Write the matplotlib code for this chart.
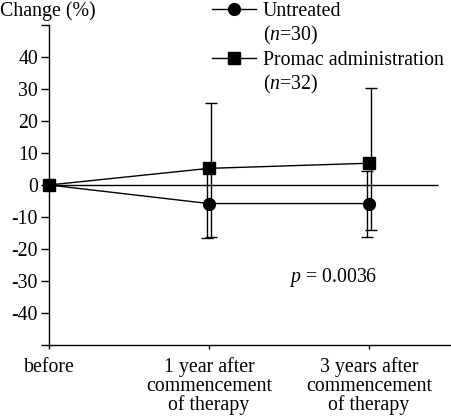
#!/usr/bin/env python3
# change (%) over time, untreated vs promac, mean +/- SD

import matplotlib
matplotlib.use('Agg')
import matplotlib.pyplot as plt
from matplotlib.lines import Line2D

plt.rcParams['font.family'] = ['Liberation Serif', 'DejaVu Serif']
plt.rcParams['mathtext.fontset'] = 'custom'
plt.rcParams['mathtext.rm'] = 'Liberation Serif'
plt.rcParams['mathtext.it'] = 'Liberation Serif:italic'
plt.rcParams['font.size'] = 14.3

timepoints = ['before',
              '1 year after\ncommencement\nof therapy',
              '3 years after\ncommencement\nof therapy']
x_pos = [0, 1, 2]

untreated_mean = [0, -5.8, -5.8]
untreated_sd = [0, 10.8, 10.3]

promac_mean = [0, 5.2, 6.8]
promac_err_low = [0, 21.6, 21.0]
promac_err_high = [0, 20.5, 23.4]

y_ticks = [-50, -40, -30, -20, -10, 0, 10, 20, 30, 40, 50]
y_ticklabels = ['' if abs(v) == 50 else str(v) for v in y_ticks]

P_VALUE = '0.0036'
BAR_SHIFT = 0.013   # the two error bars sit side by side
ZERO_LINE_END = 2.43

fig = plt.figure(figsize=(4.52, 4.17), dpi=100)
ax = fig.add_axes([49 / 452, 1 - 345 / 417, 1 - 49 / 452, (345 - 25) / 417])

# error bars (drawn slightly offset so both are visible)
ax.errorbar([x - BAR_SHIFT for x in x_pos[1:]], untreated_mean[1:], yerr=untreated_sd[1:],
            fmt='none', ecolor='black', elinewidth=1, capsize=4, capthick=1)
ax.errorbar([x + BAR_SHIFT for x in x_pos[1:]], promac_mean[1:],
            yerr=[promac_err_low[1:], promac_err_high[1:]],
            fmt='none', ecolor='black', elinewidth=1, capsize=4, capthick=1)

ax.hlines(0, x_pos[0], ZERO_LINE_END, color='black', lw=1)

ax.plot(x_pos, untreated_mean, color='black', lw=1, marker='o', ms=8.5,
        clip_on=False, zorder=4)
ax.plot(x_pos, promac_mean, color='black', lw=1, marker='s', ms=9,
        clip_on=False, zorder=5)

ax.text(1.5, -29, r'$p$ = ' + P_VALUE, va='center', ha='left')

ax.set_xlim(0, 2.52)
ax.set_ylim(-50, 50)
ax.set_yticks(y_ticks)
ax.set_yticklabels(y_ticklabels)
ax.set_xticks(x_pos)
ax.set_xticklabels(timepoints, linespacing=0.95)
ax.tick_params(axis='y', direction='out', length=6, width=1, pad=2)
ax.tick_params(axis='x', direction='out', length=3, width=1, pad=6)
for s in ['top', 'right']:
    ax.spines[s].set_visible(False)
for s in ['left', 'bottom']:
    ax.spines[s].set_linewidth(1)

fig.text(0.0, 1 - 11 / 417, 'Change (%)', ha='left', va='center')

# legend: handle on first line, n on second line
blank = Line2D([], [], color='none')
h_u = Line2D([], [], color='black', lw=1, marker='o', ms=8.5)
h_p = Line2D([], [], color='black', lw=1, marker='s', ms=9)
ax.legend([h_u, blank, h_p, blank],
          ['Untreated', r'($n$=30)', 'Promac administration', r'($n$=32)'],
          loc='upper left', bbox_to_anchor=(212 / 452, 1 - 1.5 / 417),
          bbox_transform=fig.transFigure, frameon=False, borderpad=0,
          borderaxespad=0, handlelength=2.2, handletextpad=0.35,
          labelspacing=0.18)

fig.savefig('out.png', dpi=100)
